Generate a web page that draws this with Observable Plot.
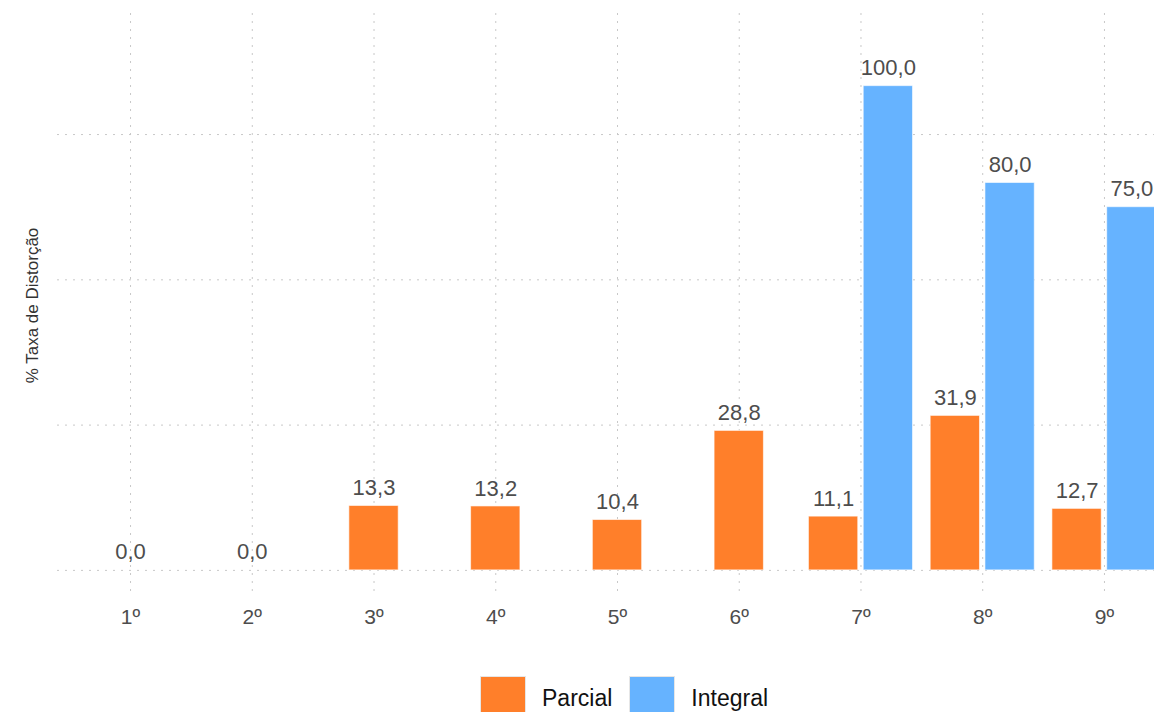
<!DOCTYPE html>
<html>
<head>
<meta charset="utf-8">
<script src="https://cdn.jsdelivr.net/npm/d3@7"></script>
<script src="https://cdn.jsdelivr.net/npm/@observablehq/plot@0.6"></script>
<style>
  html, body { margin: 0; padding: 0; background: #fff; overflow: hidden; width: 1154px; height: 712px; }
  body { font-family: "Liberation Sans", Arial, Helvetica, sans-serif; position: relative; }
  #chart { position: absolute; left: 0; top: 0; width: 1177px; }
  #chart svg { max-width: none !important; width: 1177px; height: 660px; }
  #legend { position: absolute; left: 480px; top: 676px; display: flex; align-items: flex-start; font-size: 23px; color: #111; }
  .sw { width: 46px; height: 44px; border: 1px solid #e6e6e6; box-sizing: border-box; }
  .lab { margin-left: 16px; margin-right: 17px; line-height: 44px; }
</style>
</head>
<body>
<div id="chart"></div>
<div id="legend"></div>
<script>
const categories = ["1º", "2º", "3º", "4º", "5º", "6º", "7º", "8º", "9º"];
const seriesNames = ["Parcial", "Integral"];
const parcial = [0.0, 0.0, 13.3, 13.2, 10.4, 28.8, 11.1, 31.9, 12.7];
const integral = [null, null, null, null, null, null, 100.0, 80.0, 75.0];
const colors = ["#FF7F2A", "#66B3FF"];
const yTicks = [0, 30, 60, 90];
const yLabel = "% Taxa de Distorção";

// dodge (ggplot position_dodge2, width 0.9, padding 0.1)
const rows = [];
categories.forEach((c, i) => {
  const vals = [parcial[i], integral[i]];
  const present = vals.map((v, k) => v != null ? k : -1).filter(k => k >= 0);
  const n = present.length;
  present.forEach((k, j) => {
    const slot = 0.9 / 2;
    const center = (i + 1) + (n === 1 ? 0 : (j - (n - 1) / 2) * slot);
    const half = slot * 0.9 / 2;
    rows.push({cat: c, series: seriesNames[k], value: vals[k], x1: center - half, x2: center + half, xc: center});
  });
});

const fmt = v => v.toFixed(1).replace(".", ",");

const plot = Plot.plot({
  width: 1177,
  height: 660,
  marginLeft: 57,
  marginRight: 0,
  marginTop: 13,
  marginBottom: 63,
  style: {fontFamily: '"Liberation Sans", Arial, Helvetica, sans-serif', background: "#fff", maxWidth: "none"},
  x: {type: "linear", domain: [0.4, 9.6], axis: null},
  y: {domain: [-5.6, 115], axis: null},
  color: {domain: seriesNames, range: colors},
  marks: [
    Plot.gridY(yTicks, {stroke: "#c8c8c8", strokeOpacity: 1, strokeDasharray: "2,6", strokeWidth: 1}),
    Plot.gridX(d3.range(1, categories.length + 1), {stroke: "#c8c8c8", strokeOpacity: 1, strokeDasharray: "2,6", strokeWidth: 1}),
    Plot.rectY(rows, {x1: "x1", x2: "x2", y1: 0, y2: "value", fill: "series", stroke: "#fff", strokeWidth: 1, strokeOpacity: 0.6}),
    Plot.text(rows, {x: "xc", y: "value", text: d => fmt(d.value), dy: -18, fontSize: 22, fill: "#4d4d4d"}),
    Plot.axisX(d3.range(1, categories.length + 1), {tickSize: 0, tickPadding: 12, tickFormat: i => categories[i - 1], fontSize: 21, fill: "#4d4d4d", label: null}),
    Plot.text([yLabel], {frameAnchor: "left", textAnchor: "middle", rotate: -90, dx: -25, fontSize: 17, fill: "#333"})
  ]
});
document.getElementById("chart").appendChild(plot);

const legend = document.getElementById("legend");
seriesNames.forEach((s, k) => {
  const sw = document.createElement("div");
  sw.className = "sw";
  sw.style.background = colors[k];
  const lab = document.createElement("div");
  lab.className = "lab";
  lab.textContent = s;
  legend.appendChild(sw);
  legend.appendChild(lab);
});
</script>
</body>
</html>
